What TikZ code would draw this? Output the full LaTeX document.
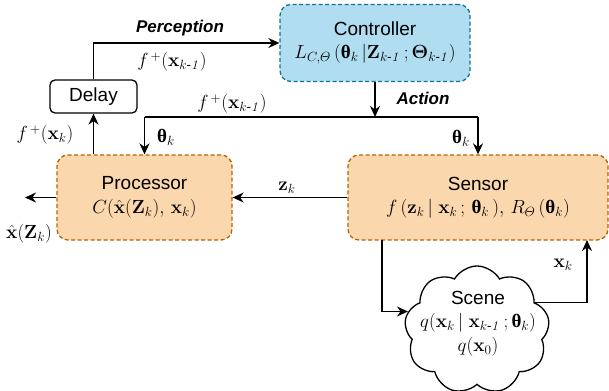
\RequirePackage{fix-cm}
\documentclass[tikz,border=0pt]{standalone}
\usepackage{amsmath}
\usepackage[no-math]{fontspec}
\setmainfont{Liberation Sans}
\newfontfamily\serifgr{Liberation Serif}
\usetikzlibrary{arrows.meta,shapes.symbols}
\definecolor{ctrlfill}{HTML}{B1DDF0}
\definecolor{ctrldraw}{HTML}{10739E}
\definecolor{orfill}{HTML}{FAD7AC}
\definecolor{ordraw}{HTML}{B46504}
\newcommand{\km}{k\text{-}\mathit{1}}
\newcommand{\bth}{\text{\serifgr\bfseries θ}}
\begin{document}
\begin{tikzpicture}[x=1pt,y=-1pt,
  every node/.style={font=\fontsize{19}{23}\selectfont, inner sep=0pt},
  dashbox/.style={dash pattern=on 4pt off 2.5pt, line width=1.3pt, rounded corners=11pt, align=center},
  ctrlbox/.style={dashbox, draw=ctrldraw, fill=ctrlfill},
  orbox/.style={dashbox, draw=ordraw, fill=orfill},
  delaybox/.style={draw=black, line width=1.3pt, rounded corners=5pt},
  cloudbox/.style={cloud, cloud puffs=9, cloud puff arc=120, cloud ignores aspect, draw=black, line width=1.3pt, fill=white},
  conn/.style={line width=1.5pt, -{Stealth[length=11pt,width=10pt]}},
  plain/.style={line width=1.5pt},
  lbl/.style={font=\fontsize{19}{23}\selectfont},
  bold/.style={font=\fontsize{17}{20}\selectfont\bfseries\itshape}]
\useasboundingbox (0,0) rectangle (609,390);

\node[ctrlbox, minimum width=190pt, minimum height=77pt] (ctrl) at (375,43)
  {Controller\\[0pt] $L_{C,\varTheta}\,(\bth_k\,|\mathbf{Z}_{\km}\,;\boldsymbol{\Theta}_{\km})$};
\node[delaybox, minimum width=87pt, minimum height=33pt] (delay) at (93.5,96.5) {Delay};
\node[orbox, minimum width=175pt, minimum height=85pt] (proc) at (144.5,197.5)
  {Processor\\[1pt] $C(\hat{\mathbf{x}}(\mathbf{Z}_k),\,\mathbf{x}_k)$};
\node[orbox, minimum width=260pt, minimum height=85pt] (sens) at (478,197.5)
  {Sensor\\[0pt] $f\,(\mathbf{z}_k\,|\;\mathbf{x}_k\,;\,\bth_k\,),\,R_{\varTheta}\,(\bth_k)$};

\node[cloudbox, minimum width=145pt, minimum height=128pt] (scene) at (477,330) {};
\node[align=center] (scenetxt) at (478,324)
  {Scene\\[0pt] $q(\mathbf{x}_k\,|\;\mathbf{x}_{\km}\,;\bth_k)$\\[1pt] $q(\mathbf{x}_0)$};

\coordinate (bus) at (375,117);
\coordinate (out) at (25,197.5);
\coordinate (sdown) at (382,240);
\coordinate (sup) at (587,240);

% perception
\draw[conn] (delay.north) |- (ctrl.west);
% action
\draw[conn] (ctrl.south) -- (bus);
\draw[plain] (bus -| proc.north) -- (bus -| sens.north);
\draw[conn] (bus -| proc.north) -- (proc.north);
\draw[conn] (bus -| sens.north) -- (sens.north);
% processor to delay
\draw[conn] (proc.north -| delay.south) -- (delay.south);
% sensor to processor
\draw[conn] (sens.west) -- (proc.east);
% output
\draw[conn] (proc.west) -- (out);
% sensor to scene
\draw[conn] (sdown) |- (scene.165);
% scene to sensor
\draw[conn] (scene.25) -| (sup);

% labels
\node[bold] (lperc) at (180,28) {Perception};
\node[lbl] (lf1) at (172,62) {$f^{\,+}(\mathbf{x}_{\km})$};
\node[bold] (lact) at (423,98) {Action};
\node[lbl] (lf2) at (232,104) {$f^{\,+}(\mathbf{x}_{\km})$};
\node[lbl] (lth1) at (166,137) {$\bth_k$};
\node[lbl] (lth2) at (461,138) {$\bth_k$};
\node[lbl] (lfk) at (45,135) {$f^{\,+}(\mathbf{x}_k)$};
\node[lbl] (lz) at (287,188) {$\mathbf{z}_k$};
\node[lbl] (lxh) at (29,234) {$\hat{\mathbf{x}}(\mathbf{Z}_k)$};
\node[lbl] (lxk) at (563,265) {$\mathbf{x}_k$};
\end{tikzpicture}
\end{document}
